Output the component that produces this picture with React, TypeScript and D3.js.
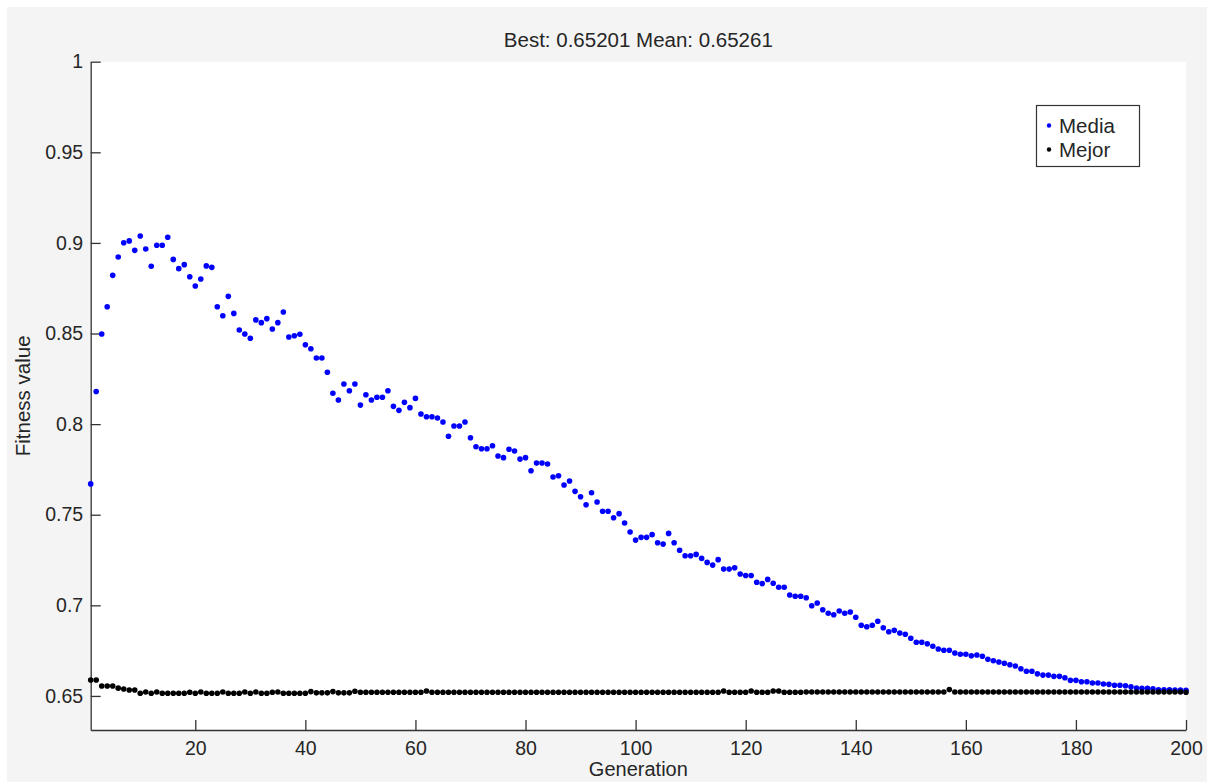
import React from "react";
import * as d3 from "d3";

const chartTitle = "Best: 0.65201 Mean: 0.65261";
const xLabel = "Generation";
const yLabel = "Fitness value";
const legendLabels = ["Media", "Mejor"];
const seriesColors = ["#0000ff", "#000000"];

const xTicks = [20, 40, 60, 80, 100, 120, 140, 160, 180, 200];
const yTicks = [0.65, 0.7, 0.75, 0.8, 0.85, 0.9, 0.95, 1];

// mean fitness per generation (1..200)
const mediaValues = [
  0.767, 0.818, 0.8497, 0.8648, 0.8821, 0.8922, 0.9001, 0.9011, 0.8959, 0.9038,
  0.8966, 0.8871, 0.8987, 0.8987, 0.9031, 0.8909, 0.8858, 0.888, 0.8813, 0.8762,
  0.8801, 0.8873, 0.8865, 0.8648, 0.8598, 0.8705, 0.8611, 0.8519, 0.8497, 0.8474,
  0.8575, 0.856, 0.8582, 0.8525, 0.856, 0.8619, 0.8481, 0.8488, 0.8496, 0.8438,
  0.8416, 0.8365, 0.8365, 0.8286, 0.817, 0.8133, 0.8221, 0.8184, 0.8221, 0.8105,
  0.8162, 0.8133, 0.8148, 0.8148, 0.8184, 0.8098, 0.8076, 0.812, 0.8091, 0.8142,
  0.8056, 0.8041, 0.8041, 0.8034, 0.8012, 0.7933, 0.799, 0.799, 0.8012, 0.7925,
  0.7875, 0.7864, 0.7864, 0.7881, 0.7824, 0.7815, 0.7861, 0.7852, 0.7807, 0.7815,
  0.7743, 0.7785, 0.7785, 0.778, 0.7708, 0.7715, 0.7664, 0.7686, 0.7629, 0.7599,
  0.7555, 0.7621, 0.757, 0.7519, 0.7519, 0.7483, 0.7506, 0.7454, 0.7405, 0.736,
  0.7375, 0.7375, 0.739, 0.7345, 0.7338, 0.7397, 0.7345, 0.7304, 0.7274, 0.7274,
  0.7281, 0.7259, 0.7237, 0.7222, 0.7252, 0.72, 0.72, 0.7207, 0.7173, 0.7165,
  0.7165, 0.7127, 0.712, 0.7143, 0.7122, 0.71, 0.71, 0.7057, 0.705, 0.705,
  0.7042, 0.6998, 0.7013, 0.6976, 0.6956, 0.6948, 0.6969, 0.6956, 0.6963, 0.6934,
  0.689, 0.6882, 0.689, 0.6912, 0.6876, 0.6854, 0.6862, 0.6847, 0.684, 0.6818,
  0.6796, 0.6796, 0.6788, 0.6774, 0.6759, 0.6752, 0.6752, 0.6737, 0.673, 0.673,
  0.6722, 0.6726, 0.6719, 0.6702, 0.6694, 0.6687, 0.668, 0.6672, 0.6665, 0.665,
  0.6636, 0.6636, 0.6622, 0.6615, 0.6615, 0.6608, 0.6608, 0.66, 0.6586, 0.6586,
  0.6578, 0.6578, 0.6571, 0.6571, 0.6566, 0.6564, 0.6559, 0.6559, 0.6556, 0.6551,
  0.6544, 0.6542, 0.6542, 0.654, 0.6534, 0.6534, 0.6534, 0.6532, 0.6532, 0.6531,
];

// best fitness per generation (1..200)
const mejorValues = [
  0.6588, 0.6588, 0.6555, 0.6555, 0.6555, 0.6543, 0.6538, 0.6533, 0.6533, 0.6515,
  0.6522, 0.6515, 0.6522, 0.6515, 0.6515, 0.6515, 0.6515, 0.6515, 0.652, 0.6515,
  0.6522, 0.6515, 0.6515, 0.6515, 0.6522, 0.6515, 0.6515, 0.6515, 0.6522, 0.6515,
  0.6522, 0.6515, 0.6515, 0.652, 0.6522, 0.6515, 0.6515, 0.6515, 0.6515, 0.6515,
  0.6524, 0.6517, 0.6517, 0.6517, 0.6524, 0.6517, 0.6517, 0.6517, 0.6526, 0.652,
  0.652, 0.652, 0.652, 0.652, 0.652, 0.652, 0.652, 0.652, 0.652, 0.652,
  0.652, 0.6527, 0.652, 0.652, 0.652, 0.652, 0.652, 0.652, 0.652, 0.652,
  0.652, 0.652, 0.652, 0.652, 0.652, 0.652, 0.652, 0.652, 0.652, 0.652,
  0.652, 0.652, 0.652, 0.652, 0.652, 0.652, 0.652, 0.652, 0.652, 0.652,
  0.652, 0.652, 0.652, 0.652, 0.652, 0.652, 0.652, 0.652, 0.652, 0.652,
  0.652, 0.652, 0.652, 0.652, 0.652, 0.652, 0.652, 0.652, 0.652, 0.652,
  0.652, 0.652, 0.652, 0.652, 0.652, 0.6527, 0.652, 0.652, 0.652, 0.652,
  0.6527, 0.652, 0.652, 0.652, 0.6527, 0.6527, 0.652, 0.652, 0.652, 0.652,
  0.6522, 0.6522, 0.6522, 0.6522, 0.6522, 0.6522, 0.6522, 0.6522, 0.6522, 0.6522,
  0.6522, 0.6522, 0.6522, 0.6522, 0.6522, 0.6522, 0.6522, 0.6522, 0.6522, 0.6522,
  0.6522, 0.6522, 0.6522, 0.6522, 0.6522, 0.6522, 0.6535, 0.6522, 0.6522, 0.6522,
  0.6522, 0.6522, 0.6522, 0.6522, 0.6522, 0.6522, 0.6522, 0.6522, 0.6522, 0.6522,
  0.6522, 0.6522, 0.6522, 0.6522, 0.6522, 0.6522, 0.6522, 0.6522, 0.6522, 0.6522,
  0.6522, 0.6522, 0.6522, 0.6522, 0.6522, 0.6522, 0.6522, 0.6522, 0.6522, 0.6522,
  0.6522, 0.6522, 0.6522, 0.6522, 0.6522, 0.6522, 0.6522, 0.6522, 0.6522, 0.65201,
];

const W = 1207, H = 782;
const plot = { left: 90.7, right: 1186, top: 61.7, bottom: 730 };
const font = "'Liberation Sans', Arial, sans-serif";
const axisColor = "#333333";

const App = () => {
  const ref = React.useRef<SVGSVGElement>(null);

  React.useEffect(() => {
    const svg = d3.select(ref.current);
    svg.selectAll("*").remove();

    const xScale = d3.scaleLinear([1, 200], [plot.left, plot.right]);
    const yScale = d3.scaleLinear([0.6312, 1], [plot.bottom, plot.top]);

    // figure + axes background
    svg.append("rect").attr("width", W).attr("height", H).attr("fill", "#ffffff");
    svg.append("rect").attr("x", 7).attr("y", 7).attr("width", W - 7).attr("height", H - 7).attr("fill", "#f4f4f4");
    svg.append("rect")
      .attr("x", plot.left).attr("y", plot.top)
      .attr("width", plot.right - plot.left).attr("height", plot.bottom - plot.top)
      .attr("fill", "#ffffff");

    // axes, ticks pointing inwards like MATLAB
    const xAxis = svg.append("g")
      .attr("transform", `translate(0,${plot.bottom})`)
      .call(d3.axisBottom(xScale).tickValues(xTicks).tickSizeInner(-10).tickSizeOuter(0).tickPadding(11).tickFormat(d3.format("d")));
    const yAxis = svg.append("g")
      .attr("transform", `translate(${plot.left},0)`)
      .call(d3.axisLeft(yScale).tickValues(yTicks).tickSizeInner(-10).tickSizeOuter(0).tickPadding(7.5).tickFormat(d => String(d)));
    [xAxis, yAxis].forEach(axis => {
      axis.select(".domain").attr("stroke", axisColor).attr("stroke-width", 1.3);
      axis.selectAll(".tick line").attr("stroke", axisColor).attr("stroke-width", 1.3);
      axis.selectAll(".tick text").attr("fill", "#262626").attr("font-family", font).attr("font-size", 19.5);
    });

    // series markers
    const series = [mediaValues, mejorValues];
    series.forEach((values, s) => {
      svg.append("g")
        .selectAll("circle")
        .data(values)
        .join("circle")
        .attr("cx", (d, i) => xScale(i + 1))
        .attr("cy", d => yScale(d))
        .attr("r", 2.8)
        .attr("fill", seriesColors[s]);
    });

    // title and labels
    svg.append("text")
      .attr("x", (plot.left + plot.right) / 2).attr("y", 47)
      .attr("text-anchor", "middle")
      .attr("font-family", font).attr("font-size", 20.5).attr("fill", "#262626")
      .text(chartTitle);
    svg.append("text")
      .attr("x", (plot.left + plot.right) / 2).attr("y", 776)
      .attr("text-anchor", "middle")
      .attr("font-family", font).attr("font-size", 20).attr("fill", "#262626")
      .text(xLabel);
    svg.append("text")
      .attr("transform", `translate(30,${(plot.top + plot.bottom) / 2}) rotate(-90)`)
      .attr("text-anchor", "middle")
      .attr("font-family", font).attr("font-size", 20.5).attr("fill", "#262626")
      .text(yLabel);

    // legend
    const legend = svg.append("g");
    legend.append("rect")
      .attr("x", 1036.5).attr("y", 105.5).attr("width", 103).attr("height", 61)
      .attr("fill", "#ffffff").attr("stroke", axisColor).attr("stroke-width", 1.2);
    legendLabels.forEach((label, i) => {
      const cy = 125.5 + i * 24;
      legend.append("circle").attr("cx", 1049).attr("cy", cy).attr("r", 2.2).attr("fill", seriesColors[i]);
      legend.append("text")
        .attr("x", 1059).attr("y", cy + 7.5)
        .attr("font-family", font).attr("font-size", 20.5).attr("fill", "#262626")
        .text(label);
    });
  }, []);

  return (
    <svg
      ref={ref}
      width={W}
      height={H}
      style={{ position: "absolute", top: 0, left: 0, display: "block" }}
    />
  );
};

export default App;
